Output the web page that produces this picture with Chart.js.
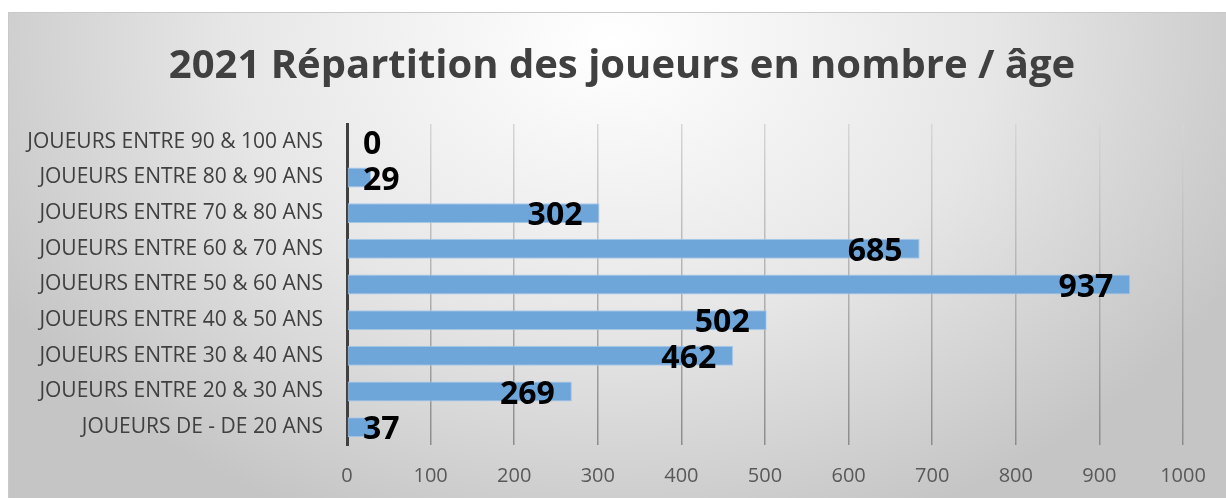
<!DOCTYPE html>
<html>
<head>
<meta charset="utf-8">
<script src="https://cdn.jsdelivr.net/npm/chart.js@4.4.1/dist/chart.umd.min.js"></script>
<style>
  html, body { margin: 0; padding: 0; background: #fff; }
  #wrap {
    position: absolute; left: 8px; top: 12px; width: 1218px; height: 486px;
    box-sizing: border-box;
    border-left: 1px solid #c9c9c9; border-top: 1px solid #c9c9c9;
    background: radial-gradient(ellipse 700px 520px at 602px 30px, #ffffff 0%, #e6e6e6 55%, #c5c5c5 100%);
  }
  canvas { display: block; }
</style>
</head>
<body>
<div id="wrap"><canvas id="chart" width="1217" height="485"></canvas></div>
<script>
const titleText = '2021 Répartition des joueurs en nombre / âge';

// top to bottom, as in the picture
const ageGroups = [
  'JOUEURS ENTRE 90 & 100 ANS',
  'JOUEURS ENTRE 80 & 90 ANS',
  'JOUEURS ENTRE 70 & 80 ANS',
  'JOUEURS ENTRE 60 & 70 ANS',
  'JOUEURS ENTRE 50 & 60 ANS',
  'JOUEURS ENTRE 40 & 50 ANS',
  'JOUEURS ENTRE 30 & 40 ANS',
  'JOUEURS ENTRE 20 & 30 ANS',
  'JOUEURS DE - DE 20 ANS'
];
const playerCounts = [0, 29, 302, 685, 937, 502, 462, 269, 37];

const axisMin = 0;
const axisMax = 1000;
const axisStep = 100;

// value labels, Excel "inside end" style, pushed right when they would hit the axis
const valueLabels = {
  id: 'valueLabels',
  afterDatasetsDraw(chart) {
    const ctx = chart.ctx;
    const area = chart.chartArea;
    const meta = chart.getDatasetMeta(0);
    ctx.save();
    ctx.font = 'bold 32px "Open Sans"';
    ctx.fillStyle = '#000';
    ctx.textBaseline = 'middle';
    ctx.textAlign = 'left';
    meta.data.forEach((bar, i) => {
      const txt = String(playerCounts[i]);
      const w = ctx.measureText(txt).width;
      let x = bar.x - 17 - w;
      if (x < area.left + 16) x = area.left + 16;
      ctx.fillText(txt, x, bar.y + 3);
    });
    ctx.restore();
  }
};

function gridColor(c) {
  const chart = c.chart;
  const a = chart.chartArea;
  if (!a) return '#b0b0b0';
  const g = chart.ctx.createLinearGradient(0, a.top, 0, a.bottom);
  g.addColorStop(0, '#d6d6d6');
  g.addColorStop(1, '#8c8c8c');
  return g;
}

new Chart(document.getElementById('chart'), {
  type: 'bar',
  data: {
    labels: ageGroups,
    datasets: [{
      data: playerCounts,
      backgroundColor: '#6fa6da',
      borderColor: '#a9c9ea',
      borderWidth: 1,
      borderSkipped: false,
      barPercentage: 0.56,
      categoryPercentage: 1
    }]
  },
  options: {
    indexAxis: 'y',
    responsive: false,
    animation: false,
    layout: { padding: { left: 9, right: 0, top: 0, bottom: 0 } },
    plugins: {
      legend: { display: false },
      tooltip: { enabled: false },
      title: {
        display: true,
        text: titleText,
        color: '#404040',
        font: { family: 'Open Sans', size: 40, weight: 'bold' },
        padding: { top: 30, bottom: 33 }
      }
    },
    scales: {
      x: {
        min: axisMin,
        max: axisMax,
        ticks: {
          stepSize: axisStep,
          color: '#595959',
          font: { family: 'Open Sans', size: 20 },
          padding: 19,
          callback: (v) => String(v)
        },
        grid: { color: gridColor, lineWidth: 1.5, drawTicks: false },
        border: { display: false },
        afterFit(scale) {
          scale.height = 53;
          scale.paddingRight = 43;
        }
      },
      y: {
        ticks: {
          color: '#404040',
          font: { family: 'Open Sans', size: 21 },
          padding: 24
        },
        grid: { display: false, drawTicks: false },
        border: { display: true, color: '#404040', width: 3 },
        afterFit(scale) { scale.width = 329; }
      }
    }
  },
  plugins: [valueLabels]
});
</script>
</body>
</html>
